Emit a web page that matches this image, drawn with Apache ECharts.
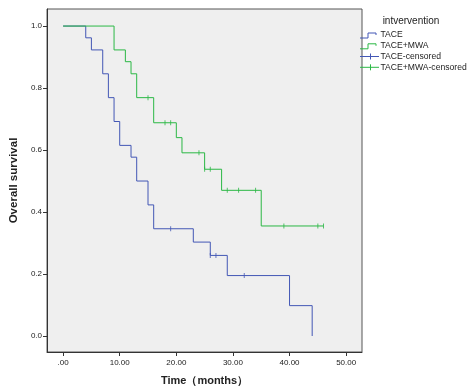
<!DOCTYPE html>
<html><head><meta charset="utf-8">
<script src="https://cdn.jsdelivr.net/npm/echarts@6/dist/echarts.min.js"></script>
<style>html,body{margin:0;padding:0;background:#fff}#c{width:471px;height:391px}</style>
</head><body><div id="c"></div>
<script>
// Kaplan-Meier data
const taceTimes = [0, 4, 5, 7, 8, 9, 10, 12, 13, 15, 16, 23, 26, 29, 40, 44];
const taceSurv  = [1, 0.962, 0.923, 0.846, 0.769, 0.692, 0.615, 0.577, 0.500, 0.423, 0.346, 0.303, 0.260, 0.195, 0.098, 0];
const taceCensorTimes = [19, 26, 27, 32];
const taceCensorSurv  = [0.346, 0.260, 0.260, 0.195];

const mwaTimes = [0, 9, 11, 12, 13, 16, 20, 21, 25, 28, 35];
const mwaSurv  = [1, 0.923, 0.885, 0.846, 0.769, 0.688, 0.640, 0.591, 0.538, 0.470, 0.355];
const mwaCensorTimes = [15, 18, 19, 24, 25, 26, 29, 31, 34, 39, 45, 46];
const mwaCensorSurv  = [0.769, 0.688, 0.688, 0.591, 0.538, 0.538, 0.470, 0.470, 0.470, 0.355, 0.355, 0.355];

const xTicks = [0, 10, 20, 30, 40, 50];
const yTicks = [0, 0.2, 0.4, 0.6, 0.8, 1.0];
const legendTitle = 'intvervention';
const seriesNames = ['TACE', 'TACE+MWA', 'TACE-censored', 'TACE+MWA-censored'];

function stepPoints(times, surv, censorTimes) {
  const pts = [];
  for (let i = 0; i < times.length; i++) {
    if (i > 0) pts.push([times[i], surv[i - 1]]);
    pts.push([times[i], surv[i]]);
  }
  const lastC = Math.max.apply(null, censorTimes);
  const lastT = times[times.length - 1];
  if (lastC > lastT && surv[surv.length - 1] > 0) pts.push([lastC, surv[surv.length - 1]]);
  return pts;
}
function zip(a, b) { return a.map((v, i) => [v, b[i]]); }

const BLUE = '#4357b5', GREEN = '#2bb845';
const FONT = 'Liberation Sans';
const chart = echarts.init(document.getElementById('c'));

const legY = [35, 45.8, 56.5, 67.3];
const graphics = [
  { type: 'text', x: 411, y: 21.5, style: { text: legendTitle, font: '10px "Liberation Sans"', fill: '#222', align: 'center', verticalAlign: 'middle' } }
];
[BLUE, GREEN].forEach((col, i) => {
  const y = legY[i];
  graphics.push({ type: 'polyline', shape: { points: [[360, y + 3], [368, y + 3], [368, y - 2], [376, y - 2], [376, y]] }, style: { stroke: col, lineWidth: 1, fill: null } });
});
[BLUE, GREEN].forEach((col, i) => {
  const y = legY[i + 2];
  graphics.push({ type: 'line', shape: { x1: 360, y1: y, x2: 379, y2: y }, style: { stroke: col, lineWidth: 1 } });
  graphics.push({ type: 'line', shape: { x1: 370.5, y1: y - 3, x2: 370.5, y2: y + 3 }, style: { stroke: col, lineWidth: 1 } });
});
seriesNames.forEach((n, i) => {
  graphics.push({ type: 'text', x: 380.5, y: legY[i], style: { text: n, font: '8.6px "Liberation Sans"', fill: '#222', align: 'left', verticalAlign: 'middle' } });
});

chart.setOption({
  animation: false,
  backgroundColor: '#fff',
  grid: { left: 43, top: 9, right: 109, bottom: 39, show: true, backgroundColor: '#efefef', borderColor: '#555', borderWidth: 1 },
  xAxis: {
    type: 'value', min: -2.84, max: 52.8,
    name: 'Time（months）', nameLocation: 'middle', nameGap: 23,
    nameTextStyle: { fontFamily: FONT, fontWeight: 'bold', fontSize: 11, color: '#222' },
    axisLine: { show: true, onZero: false, lineStyle: { color: '#333' } },
    axisTick: { show: true, length: 4, customValues: xTicks, lineStyle: { color: '#333' } },
    axisLabel: { customValues: xTicks, margin: 7, fontFamily: FONT, fontSize: 8, color: '#222',
      formatter: v => v === 0 ? '.00' : v.toFixed(2) },
    splitLine: { show: false }
  },
  yAxis: {
    type: 'value', min: -0.0516, max: 1.055,
    name: 'Overall survival', nameLocation: 'middle', nameGap: 25,
    nameTextStyle: { fontFamily: FONT, fontWeight: 'bold', fontSize: 11.5, color: '#222' },
    axisLine: { show: true, onZero: false, lineStyle: { color: '#333' } },
    axisTick: { show: true, length: 4, customValues: yTicks, lineStyle: { color: '#333' } },
    axisLabel: { customValues: yTicks, margin: 5, fontFamily: FONT, fontSize: 8, color: '#222',
      formatter: v => v.toFixed(1) },
    splitLine: { show: false }
  },
  graphic: graphics,
  series: [
    { name: seriesNames[0], type: 'line', data: stepPoints(taceTimes, taceSurv, taceCensorTimes), showSymbol: false, lineStyle: { color: BLUE, width: 1 }, z: 2 },
    { name: seriesNames[1], type: 'line', data: stepPoints(mwaTimes, mwaSurv, mwaCensorTimes), showSymbol: false, lineStyle: { color: GREEN, width: 1 }, z: 3 },
    { name: seriesNames[2], type: 'scatter', data: zip(taceCensorTimes, taceCensorSurv), symbol: 'rect', symbolSize: [1, 5], itemStyle: { color: BLUE }, z: 4 },
    { name: seriesNames[3], type: 'scatter', data: zip(mwaCensorTimes, mwaCensorSurv), symbol: 'rect', symbolSize: [1, 5], itemStyle: { color: GREEN }, z: 4 }
  ]
});
</script></body></html>
